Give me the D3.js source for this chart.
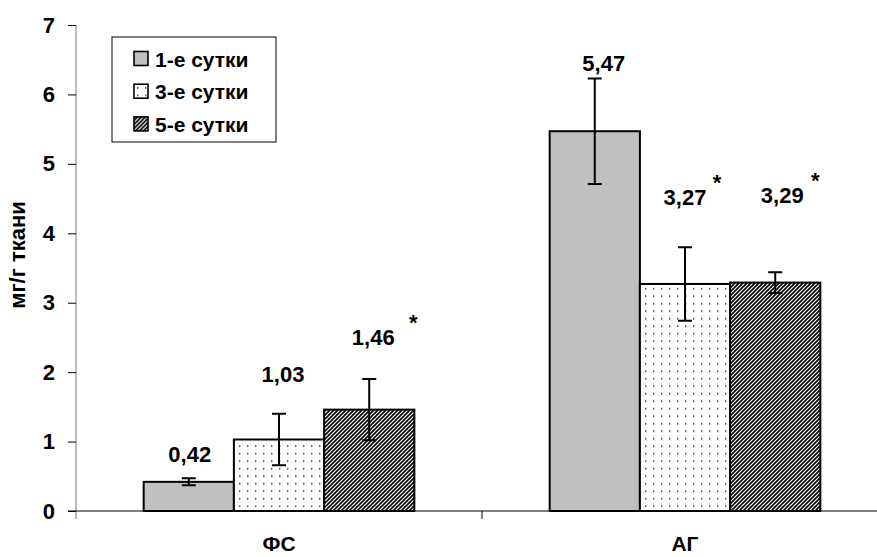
<!DOCTYPE html>
<html lang="ru">
<head>
  <meta charset="UTF-8">
  <script src="https://d3js.org/d3.v7.min.js"></script>
  <title>мг/г ткани</title>
  <style>
    body { margin: 0; background: #fff; }
    svg { display: block; font-family: "Liberation Sans", Arial, sans-serif; font-weight: bold; }
  </style>
</head>
<body>
  <svg id="chart" width="877" height="557"></svg>

  <script>
    // data
    const categories = ["ФС", "АГ"];
    const days = ["1-е сутки", "3-е сутки", "5-е сутки"];
    const valuesFS = [0.42, 1.03, 1.46];
    const valuesAG = [5.47, 3.27, 3.29];
    const errorsFS = [0.05, 0.37, 0.44];
    const errorsAG = [0.76, 0.53, 0.15];
    const starsFS = [false, false, true];
    const starsAG = [false, true, true];
    const yTicks = [0, 1, 2, 3, 4, 5, 6, 7];

    // label placement (baseline in axis units, x shift in px)
    const labelYFS = [0.71, 1.86, 2.39];
    const labelYAG = [6.34, 4.41, 4.44];
    const labelDXFS = [1, 4, 4];
    const labelDXAG = [9, 0, 7];
    const starDXFS = [0, 0, 40];
    const starDXAG = [0, 32, 33];

    const width = 877, height = 557;
    const margin = { left: 76, top: 25 };
    const svg = d3.select("#chart");

    const rows = [
      { cat: categories[0], values: valuesFS, errors: errorsFS, stars: starsFS, ly: labelYFS, dx: labelDXFS, sx: starDXFS },
      { cat: categories[1], values: valuesAG, errors: errorsAG, stars: starsAG, ly: labelYAG, dx: labelDXAG, sx: starDXAG }
    ];

    const y = d3.scaleLinear().domain([0, 7]).range([511, margin.top]);
    const x = d3.scaleBand().domain(categories).range([margin.left, margin.left + 812]).padding(0);
    const xs = d3.scaleBand().domain(days).range([0, x.bandwidth()]).paddingInner(0).paddingOuter(0.75);

    // patterns
    const defs = svg.append("defs");
    const dots = defs.append("pattern").attr("id", "dots")
      .attr("patternUnits", "userSpaceOnUse").attr("width", 8).attr("height", 7.5);
    dots.append("rect").attr("width", 8).attr("height", 7.5).attr("fill", "#fff");
    dots.append("rect").attr("x", 3).attr("y", 3).attr("width", 1.4).attr("height", 1.4).attr("fill", "#222");

    const hatch = defs.append("pattern").attr("id", "hatch")
      .attr("patternUnits", "userSpaceOnUse").attr("width", 4).attr("height", 4);
    hatch.append("rect").attr("width", 4).attr("height", 4).attr("fill", "#fff");
    hatch.append("path").attr("d", "M-1,1 l2,-2 M0,4 l4,-4 M3,5 l2,-2")
      .attr("stroke", "#000").attr("stroke-width", 1.6);

    const fills = ["#c0c0c0", "url(#dots)", "url(#hatch)"];

    // bars
    const groups = svg.selectAll(".grp").data(rows).enter().append("g")
      .attr("transform", d => `translate(${x(d.cat)},0)`);

    const bars = groups.selectAll(".bar")
      .data(d => d.values.map((v, i) => ({ v, e: d.errors[i], s: d.stars[i], ly: d.ly[i], dx: d.dx[i], sx: d.sx[i], i })))
      .enter();

    bars.append("rect")
      .attr("x", d => xs(days[d.i]))
      .attr("y", d => y(d.v))
      .attr("width", xs.bandwidth())
      .attr("height", d => y(0) - y(d.v))
      .attr("fill", d => fills[d.i])
      .attr("stroke", "#000").attr("stroke-width", 2);

    // error bars
    const cx = d => xs(days[d.i]) + xs.bandwidth() / 2;
    bars.append("path")
      .attr("d", d => {
        const t = y(d.v + d.e), b = y(d.v - d.e), c = cx(d), w = 7;
        return `M${c},${t}V${b}M${c - w},${t}H${c + w}M${c - w},${b}H${c + w}`;
      })
      .attr("stroke", "#000").attr("stroke-width", 2).attr("fill", "none");

    // value labels
    bars.append("text")
      .attr("x", d => cx(d) + d.dx)
      .attr("y", d => y(d.ly))
      .attr("text-anchor", "middle")
      .attr("font-size", 22)
      .text(d => d3.format(".2f")(d.v).replace(".", ","));

    bars.filter(d => d.s).append("text")
      .attr("x", d => cx(d) + d.dx + d.sx)
      .attr("y", d => y(d.ly) - 15)
      .attr("text-anchor", "middle")
      .attr("font-size", 22)
      .text("*");

    // axes
    const yAxis = svg.append("g").attr("transform", `translate(${margin.left},0)`)
      .call(d3.axisLeft(y).tickValues(yTicks).tickSize(8).tickPadding(13).tickFormat(d3.format("d")));
    yAxis.select(".domain").attr("d", `M0,${margin.top}V519`).attr("stroke", "#777");
    yAxis.selectAll(".tick line").attr("stroke", "#000");
    yAxis.selectAll("text").attr("font-size", 22).attr("font-family", "Liberation Sans, Arial")
      .attr("font-weight", "bold").attr("fill", "#000");

    svg.append("line")
      .attr("x1", margin.left - 8).attr("x2", width)
      .attr("y1", y(0)).attr("y2", y(0))
      .attr("stroke", "#000").attr("stroke-width", 1.2);

    svg.selectAll(".ctick").data(categories.slice(1)).enter().append("line")
      .attr("x1", d => x(d)).attr("x2", d => x(d))
      .attr("y1", y(0)).attr("y2", y(0) + 8)
      .attr("stroke", "#000");

    svg.selectAll(".clabel").data(categories).enter().append("text")
      .attr("x", d => x(d) + x.bandwidth() / 2)
      .attr("y", 551)
      .attr("text-anchor", "middle")
      .attr("font-size", 21)
      .text(d => d);

    svg.append("text")
      .attr("transform", `translate(25,255) rotate(-90)`)
      .attr("text-anchor", "middle")
      .attr("font-size", 22)
      .text("мг/г ткани");

    // legend
    const legend = svg.append("g").attr("transform", "translate(112,37)");
    legend.append("rect").attr("width", 164).attr("height", 105)
      .attr("fill", "#fff").attr("stroke", "#000").attr("stroke-width", 1);
    const li = legend.selectAll(".li").data(days).enter().append("g")
      .attr("transform", (d, i) => `translate(22,${22 + i * 32.7})`);
    li.append("rect").attr("x", 0).attr("y", -7.5).attr("width", 14).attr("height", 14)
      .attr("fill", (d, i) => fills[i]).attr("stroke", "#000").attr("stroke-width", 1.6);
    li.append("text").attr("x", 21).attr("y", 7.5).attr("font-size", 21).text(d => d);
  </script>
</body>
</html>
